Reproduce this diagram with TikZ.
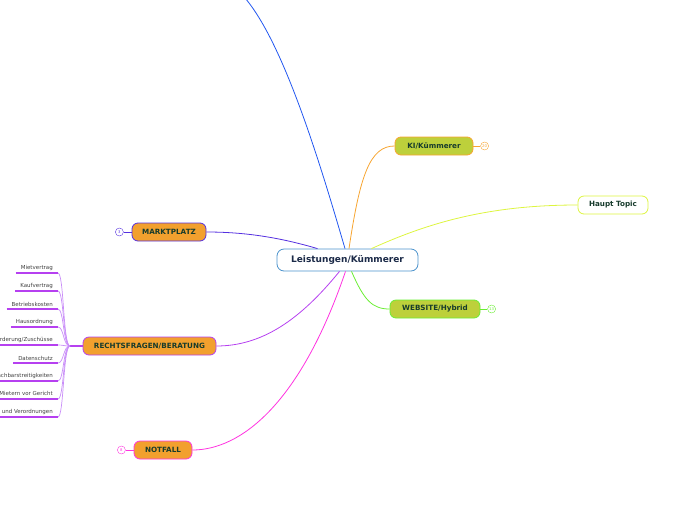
\documentclass[tikz,border=0pt]{standalone}
\usepackage{fontspec}
\setmainfont{DejaVu Sans}
\usetikzlibrary{positioning,calc}

\definecolor{topicfill}{HTML}{F2A02E}
\definecolor{limefill}{HTML}{BDD03B}
\definecolor{darktext}{HTML}{173B2C}
\definecolor{navytext}{HTML}{1B2A48}
\definecolor{mainline}{HTML}{4C93CC}
\definecolor{cblue}{HTML}{2257F0}
\definecolor{corange}{HTML}{F7A531}
\definecolor{clime}{HTML}{DDF53F}
\definecolor{cgreen}{HTML}{6AEE33}
\definecolor{cindigo}{HTML}{5530E0}
\definecolor{cpurple}{HTML}{B640F0}
\definecolor{cmagenta}{HTML}{FF33E0}
\definecolor{cleaf}{HTML}{C98EF8}

\begin{document}
\begin{tikzpicture}[x=1pt,y=-1pt,
  main/.style={draw=mainline,rounded corners=7pt,fill=white,thick,font=\fontsize{9}{10}\selectfont\bfseries,
    text=navytext,minimum width=141pt,minimum height=22pt,inner sep=0pt},
  topic/.style={draw=#1,rounded corners=6pt,thick,fill=topicfill,text=darktext,
    font=\fontsize{7.2}{8}\selectfont\bfseries,minimum height=18pt,inner sep=0pt},
  lime/.style={topic=#1,fill=limefill},
  plain/.style={topic=#1,fill=white},
  badge/.style={draw=#1,circle,fill=white,inner sep=0pt,minimum size=8pt,text=#1,
    font=\fontsize{3.8}{4}\selectfont},
  leaf/.style={anchor=south east,inner xsep=5pt,inner ysep=2.4pt,text=black!75,
    font=\fontsize{5.5}{6.5}\selectfont},
  conn/.style={draw=#1,line width=0.8pt},
  fine/.style={draw=cleaf,line width=0.7pt}]
\clip (0,0) rectangle (696,520);

% main and topics
\node[main] (core) at (347.5,260) {Leistungen/Kümmerer};
\node[lime=corange,minimum width=78pt] (ki) at (434,146) {KI/Kümmerer};
\node[plain=clime,minimum width=70pt] (haupt) at (613,205) {Haupt Topic};
\node[lime=cgreen,minimum width=90pt] (web) at (435,309) {WEBSITE/Hybrid};
\node[topic=cindigo,minimum width=74pt] (markt) at (169,232) {MARKTPLATZ};
\node[topic=cpurple,minimum width=133pt] (recht) at (149.5,346) {RECHTSFRAGEN/BERATUNG};
\node[topic=cmagenta,minimum width=58pt] (notfall) at (163,450) {NOTFALL};
\coordinate (offtop) at (245,-2);

% badges
\node[badge=corange,right=7pt of ki] (kiN) {20};
\node[badge=cgreen,right=7pt of web] (webN) {13};
\node[badge=cindigo,left=8pt of markt] (marktN) {3};
\node[badge=cmagenta,left=8pt of notfall] (notfallN) {8};
\draw[corange,line width=0.6pt] (ki) -- (kiN);
\draw[cgreen,line width=0.6pt] (web) -- (webN);
\draw[cindigo,line width=0.6pt] (markt) -- (marktN);
\draw[cmagenta,line width=0.6pt] (notfall) -- (notfallN);

% branches from the centre
\draw[conn=cblue] ([xshift=-2.5pt]core.north) .. controls (322,170) and (285,45) .. (offtop);
\draw[conn=corange] ([xshift=1.5pt]core.north) .. controls (360,175) and (370,146) .. (ki.west);
\draw[conn=clime] ([xshift=24pt]core.north) .. controls (430,222) and (490,205) .. (haupt.west);
\draw[conn=cgreen] ([xshift=4pt]core.south) .. controls (364,300) and (372,309) .. (web.west);
\draw[conn=cindigo] ([xshift=-30pt]core.north) .. controls (275,236) and (240,232) .. (markt.east);
\draw[conn=cpurple] ([xshift=-8pt]core.south) .. controls (300,320) and (262,346) .. (recht.east);
\draw[conn=cmagenta] ([xshift=-2pt]core.south) .. controls (300,405) and (240,450) .. (notfall.east);

% leaves of RECHTSFRAGEN
\coordinate (fork) at (70,346);
\draw[cpurple,line width=1.2pt] (fork) -- (recht.west);
\foreach \txt [count=\i] in {Mietvertrag,Kaufvertrag,Betriebskosten,Hausordnung,
    Förderung/Zuschüsse,Datenschutz,Nachbarstreitigkeiten,
    Vertretung von Mietern vor Gericht,Gesetze und Verordnungen}{
  \node[leaf] (leaf\i) at (58,{273+18*(\i-1)}) {\txt};
  \draw[fine] (leaf\i.south east) .. controls (64,{273+18*(\i-1)}) and (63,346) .. (fork);
  \draw[cpurple,line width=1.4pt] (leaf\i.south west) -- (leaf\i.south east);
}
\end{tikzpicture}
\end{document}
